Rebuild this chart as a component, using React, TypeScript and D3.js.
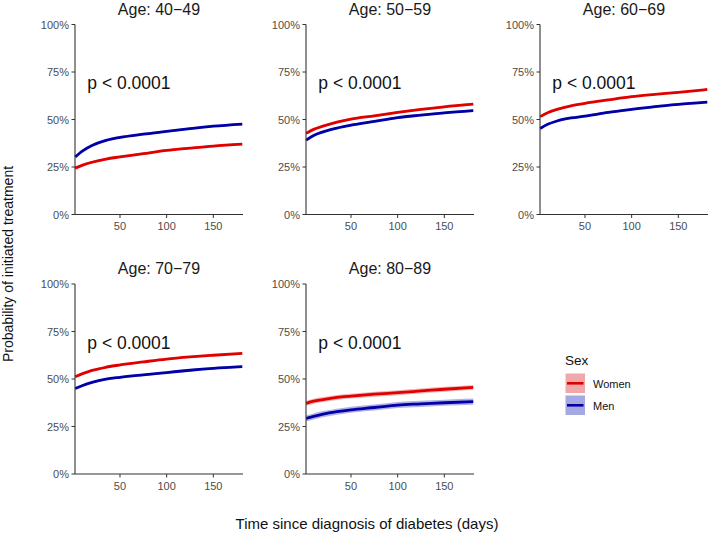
import React from "react";
import * as d3 from "d3";

const panelTitles = ["Age: 40−49", "Age: 50−59", "Age: 60−69", "Age: 70−79", "Age: 80−89"];
const times = [2, 10, 20, 35, 50, 75, 100, 125, 150, 181];
const women = [
  [24.4, 26.0, 27.5, 29.2, 30.3, 32.0, 33.7, 34.9, 36.0, 37.0],
  [42.7, 44.8, 46.5, 48.6, 50.2, 51.9, 53.7, 55.3, 56.7, 58.1],
  [51.5, 53.6, 55.3, 57.2, 58.5, 60.3, 62.0, 63.2, 64.3, 65.8],
  [51.2, 52.8, 54.5, 56.2, 57.4, 59.0, 60.5, 61.6, 62.5, 63.5],
  [37.2, 38.3, 39.2, 40.3, 41.0, 42.0, 42.8, 43.7, 44.6, 45.6],
];
const men = [
  [30.3, 33.5, 36.3, 39.0, 40.6, 42.3, 43.7, 45.2, 46.5, 47.6],
  [39.1, 41.6, 43.5, 45.5, 47.0, 49.0, 51.0, 52.3, 53.5, 54.7],
  [45.3, 47.5, 49.2, 50.8, 51.8, 53.7, 55.3, 56.8, 58.0, 59.2],
  [45.0, 46.6, 48.2, 49.9, 50.9, 52.2, 53.4, 54.6, 55.6, 56.5],
  [29.3, 30.3, 31.5, 32.8, 33.8, 35.0, 36.3, 36.9, 37.5, 38.1],
];
// confidence half-widths (percentage points)
const womenCI = [0.6, 0.6, 0.5, 0.5, 1.3];
const menCI = [0.6, 0.6, 0.6, 0.6, 1.6];
const xTicks = [50, 100, 150];
const yTicks = [0, 0.25, 0.5, 0.75, 1];
const pText = "p < 0.0001";
const legendTitle = "Sex";
const legendLabels = ["Women", "Men"];

const RED = "#e00000";
const BLUE = "#0000a8";
const RED_FILL = "#f2a8aa";
const BLUE_FILL = "#a8a8e0";
const FONT = "'Liberation Sans', Arial, Helvetica, sans-serif";

const panelLeft = [75, 306, 540, 75, 306];
const panelTop = [24.5, 24.5, 24.5, 284, 284];
const PW = 168;
const PH = 190;

function Panel({ i }: { i: number }) {
  const x0 = panelLeft[i];
  const y0 = panelTop[i];
  const x = d3.scaleLinear().domain([1.8, 181.8]).range([x0, x0 + PW]);
  const y = d3.scaleLinear().domain([0, 1]).range([y0 + PH, y0]);
  const line = d3
    .line<number>()
    .x((_, k) => x(times[k]))
    .y((v) => y(v / 100))
    .curve(d3.curveMonotoneX);
  const area = (vals: number[], hw: number) =>
    d3
      .area<number>()
      .x((_, k) => x(times[k]))
      .y0((v) => y((v - hw) / 100))
      .y1((v) => y((v + hw) / 100))
      .curve(d3.curveMonotoneX)(vals) || "";
  const axisColor = "#333";
  const tickColor = "#4d4d4d";
  return (
    <g>
      <text
        x={(x0 + x0 + PW) / 2}
        y={y0 - 10}
        textAnchor="middle"
        fontSize={16}
        fontFamily={FONT}
        fill="#1a1a1a"
      >
        {panelTitles[i]}
      </text>
      <path d={area(women[i], womenCI[i])} fill={RED} fillOpacity={0.3} />
      <path d={area(men[i], menCI[i])} fill={BLUE} fillOpacity={0.3} />
      <path d={line(women[i]) || ""} fill="none" stroke={RED} strokeWidth={2.8} />
      <path d={line(men[i]) || ""} fill="none" stroke={BLUE} strokeWidth={2.8} />
      <line x1={x0} x2={x0} y1={y0} y2={y0 + PH} stroke={axisColor} strokeWidth={1.1} />
      <line x1={x0} x2={x0 + PW} y1={y0 + PH} y2={y0 + PH} stroke={axisColor} strokeWidth={1.1} />
      {yTicks.map((t) => (
        <g key={"y" + t}>
          <line x1={x0 - 3.5} x2={x0} y1={y(t)} y2={y(t)} stroke={axisColor} strokeWidth={1} />
          <text
            x={x0 - 6}
            y={y(t) + 4}
            textAnchor="end"
            fontSize={11}
            fontFamily={FONT}
            fill={tickColor}
          >
            {d3.format(".0%")(t)}
          </text>
        </g>
      ))}
      {xTicks.map((t) => (
        <g key={"x" + t}>
          <line x1={x(t)} x2={x(t)} y1={y0 + PH} y2={y0 + PH + 3.5} stroke={axisColor} strokeWidth={1} />
          <text
            x={x(t)}
            y={y0 + PH + 15.5}
            textAnchor="middle"
            fontSize={11}
            fontFamily={FONT}
            fill={tickColor}
          >
            {t}
          </text>
        </g>
      ))}
      <text x={x(15)} y={y(0.66)} fontSize={17.5} fontFamily={FONT} fill="#111">
        {pText}
      </text>
    </g>
  );
}

export default function App() {
  const keys = [
    { fill: RED_FILL, stroke: RED },
    { fill: BLUE_FILL, stroke: BLUE },
  ];
  return (
    <svg
      width={709}
      height={534}
      style={{ position: "absolute", left: 0, top: 0, background: "#fff" }}
    >
      <rect width={709} height={534} fill="#fff" />
      {panelTitles.map((_, i) => (
        <Panel key={i} i={i} />
      ))}
      <text
        transform="translate(13,264) rotate(-90)"
        textAnchor="middle"
        fontSize={14}
        fontFamily={FONT}
        fill="#111"
      >
        Probability of initiated treatment
      </text>
      <text x={367} y={529} textAnchor="middle" fontSize={15} fontFamily={FONT} fill="#111">
        Time since diagnosis of diabetes (days)
      </text>
      <text x={565} y={365} fontSize={13.5} fontFamily={FONT} fill="#111">
        {legendTitle}
      </text>
      {keys.map((k, j) => (
        <g key={j}>
          <rect x={565.5} y={373.5 + j * 22} width={19.5} height={19.5} fill={k.fill} />
          <line
            x1={567}
            x2={583.5}
            y1={383.3 + j * 22}
            y2={383.3 + j * 22}
            stroke={k.stroke}
            strokeWidth={2.6}
          />
          <text x={593} y={387.5 + j * 22} fontSize={11} fontFamily={FONT} fill="#111">
            {legendLabels[j]}
          </text>
        </g>
      ))}
    </svg>
  );
}
